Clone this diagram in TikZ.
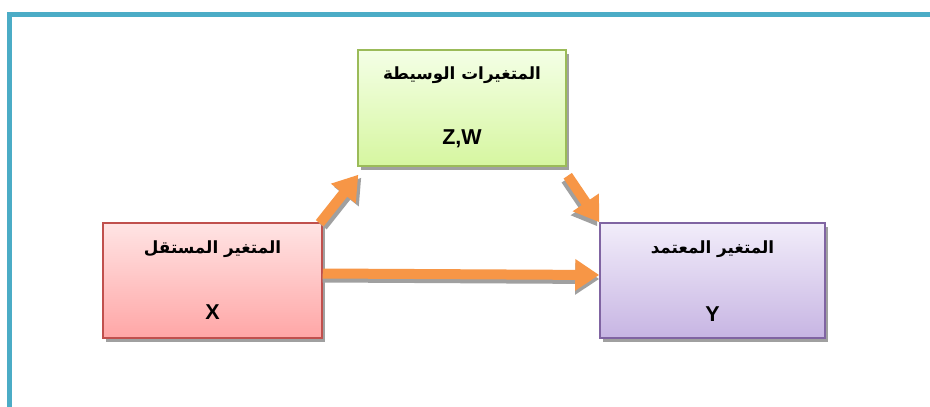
\documentclass[tikz,border=0pt]{standalone}
\usepackage{fontspec}
\setmainfont{Liberation Sans}
\newfontfamily\arabicfont[Script=Arabic]{DejaVu Sans}
\TeXXeTstate=1
\usetikzlibrary{arrows.meta,calc,shadows}
\definecolor{teal}{HTML}{4BACC6}
\definecolor{arr}{HTML}{F79646}
\definecolor{redb}{HTML}{C0504D}
\definecolor{greenb}{HTML}{9BBB59}
\definecolor{purpb}{HTML}{8064A2}
\definecolor{shad}{HTML}{A0A0A0}
\tikzset{
  box/.style={draw, line width=1.5pt, minimum width=#1, inner sep=0pt, minimum height=115pt,
    general shadow={fill=shad, shadow xshift=3pt, shadow yshift=-4pt}},
  redbox/.style={box=219pt, draw=redb, top color={rgb,255:red,255;green,228;blue,228}, bottom color={rgb,255:red,255;green,166;blue,166}},
  greenbox/.style={box=208pt, draw=greenb, top color={rgb,255:red,244;green,255;blue,230}, bottom color={rgb,255:red,214;green,246;blue,160}},
  purpbox/.style={box=225pt, draw=purpb, top color={rgb,255:red,242;green,237;blue,250}, bottom color={rgb,255:red,199;green,181;blue,227}},
  artxt/.style={font=\arabicfont\bfseries\fontsize{16.8}{18}\selectfont, inner sep=0pt},
  lattxt/.style={font=\bfseries\fontsize{21.5}{23}\selectfont, inner sep=0pt},
  fat/.style={draw=arr, line width=10pt, -{Triangle[width=30pt,length=24pt]}},
  fatshadow/.style={draw=shad, line width=10pt, -{Triangle[width=30pt,length=24pt]}},
}
\begin{document}
\begin{tikzpicture}[x=1pt,y=-1pt]
\useasboundingbox (0,0) rectangle (930,407);
\fill[white] (0,0) rectangle (930,407);
% frame
\draw[teal, line width=5pt] (9,407) -- (9,14.5) -- (930,14.5);
% boxes
\node[redbox] (red) at (212.5,280.5) {};
\node[greenbox, minimum height=116pt] (green) at (462,108) {};
\node[purpbox] (purp) at (712.5,280.5) {};
% texts
\node[artxt] (redt) at ($(red.center)+(0,-31.5)$) {\beginR المتغير  المستقل\endR};
\node[lattxt] (redx) at ($(red.center)+(0,31.5)$) {X};
\node[artxt] (greent) at ($(green.center)+(0,-33)$) {\beginR المتغيرات  الوسيطة\endR};
\node[lattxt] (greenx) at ($(green.center)+(0,31)$) {Z,W};
\node[artxt] (purpt) at ($(purp.center)+(0,-31.5)$) {\beginR المتغير  المعتمد\endR};
\node[lattxt] (purpx) at ($(purp.center)+(0,33.5)$) {Y};
% arrow anchor coordinates
\coordinate (a1s) at ($(red.north east)+(-3,1)$);
\coordinate (a1e) at ($(green.south west)+(1,8)$);
\coordinate (a2s) at ($(green.south east)+(1,9)$);
\coordinate (a2e) at ($(purp.north west)+(0,0)$);
\coordinate (a3s) at ($(red.east)+(0,-7)$);
\coordinate (a3e) at ($(purp.west)+(0,-5.5)$);
% shadows
\draw[fatshadow] ($(a1s)+(3,3)$) -- ($(a1e)+(3,3)$);
\draw[fatshadow] ($(a2s)+(-2,4)$) -- ($(a2e)+(-2,4)$);
\draw[fatshadow] ($(a3s)+(0,4)$) -- ($(a3e)+(0,4)$);
% arrows
\draw[fat] (a1s) -- (a1e);
\draw[fat] (a2s) -- (a2e);
\draw[fat] (a3s) -- (a3e);
\end{tikzpicture}
\end{document}
